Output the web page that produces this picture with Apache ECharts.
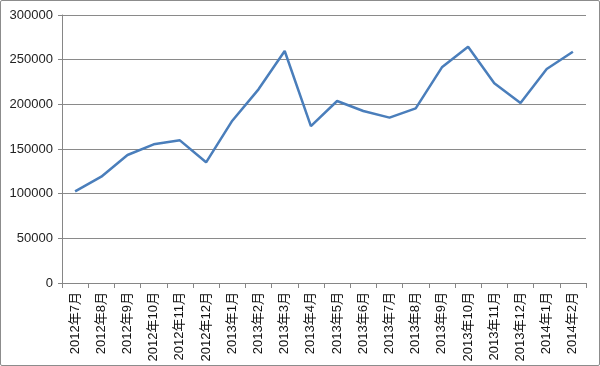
<!DOCTYPE html>
<html><head><meta charset="utf-8">
<script src="https://cdn.jsdelivr.net/npm/echarts@6/dist/echarts.min.js"></script>
<style>html,body{margin:0;padding:0;background:#fff}
#c{position:absolute;left:0;top:0;width:598px;height:364px;border:1px solid #8c8c8c;border-radius:2px}</style>
</head><body><div id="c"></div>
<script>
const categories = ['2012年7月','2012年8月','2012年9月','2012年10月','2012年11月','2012年12月','2013年1月','2013年2月','2013年3月','2013年4月','2013年5月','2013年6月','2013年7月','2013年8月','2013年9月','2013年10月','2013年11月','2013年12月','2014年1月','2014年2月'];
const values = [102600,119000,143300,155200,159700,135100,181700,216800,259700,175700,203700,192500,185100,195500,241400,264500,223500,201500,239500,258900];
const yTicks = {min:0, max:300000, interval:50000};
const chart = echarts.init(document.getElementById('c'));
chart.setOption({
  animation:false,
  grid:{left:61, right:13, top:14, bottom:82, containLabel:false},
  xAxis:{type:'category', data:categories, boundaryGap:true,
    axisLine:{lineStyle:{color:'#868686', width:1}},
    axisTick:{show:true, length:5, lineStyle:{color:'#868686'}},
    axisLabel:{rotate:90, interval:0, fontSize:13, color:'#111', fontFamily:'Liberation Sans, Noto Sans CJK SC', margin:9}},
  yAxis:{type:'value', min:yTicks.min, max:yTicks.max, interval:yTicks.interval,
    axisLine:{show:true, lineStyle:{color:'#868686'}},
    axisTick:{show:true, length:4, lineStyle:{color:'#868686'}},
    splitLine:{lineStyle:{color:'#8a8a8a', width:1}},
    axisLabel:{fontSize:13, color:'#222', fontFamily:'Liberation Sans', margin:9, formatter:v=>String(v)}},
  series:[{type:'line', data:values, symbol:'none', lineStyle:{color:'#4a7ebb', width:2.5}}]
});
</script></body></html>
